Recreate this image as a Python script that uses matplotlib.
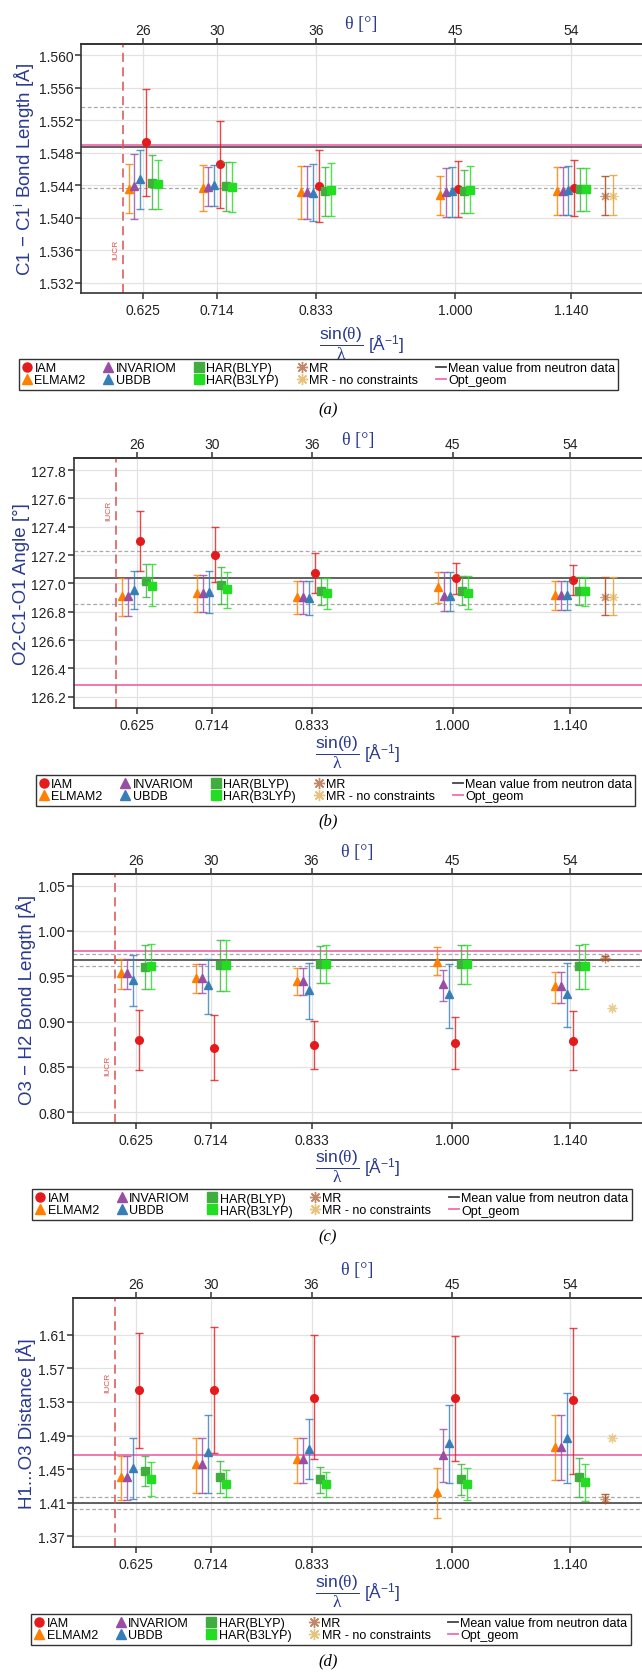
import numpy as np
import matplotlib
matplotlib.use("Agg")
import matplotlib.pyplot as plt
from matplotlib.lines import Line2D
from matplotlib.ticker import FormatStrFormatter
import matplotlib.transforms as mtransforms

plt.rcParams['font.family'] = ['Liberation Sans', 'DejaVu Sans']
plt.rcParams['mathtext.fontset'] = 'custom'
plt.rcParams['mathtext.rm'] = 'Liberation Serif'
plt.rcParams['mathtext.sf'] = 'Liberation Sans'
plt.rcParams['mathtext.it'] = 'Liberation Serif:italic'

# resolution sin(theta)/lambda and the matching theta
x_sin = [0.625, 0.714, 0.833, 1.000, 1.140]
theta = [26, 30, 36, 45, 54]
methods = ['IAM', 'ELMAM2', 'INVARIOM', 'UBDB', 'HAR(BLYP)', 'HAR(B3LYP)']
iucr_limit = 0.6
mr_x = 1.181
mrnc_x = 1.190

# (a) C1-C1i bond length, rows in order of methods
a_val = [[1.5493, 1.5466, 1.5439, 1.5436, 1.5437],
         [1.5436, 1.5437, 1.5432, 1.5428, 1.5433],
         [1.5439, 1.5438, 1.5432, 1.5432, 1.5433],
         [1.5448, 1.5440, 1.5431, 1.5433, 1.5434],
         [1.5443, 1.5439, 1.5433, 1.5433, 1.5435],
         [1.5441, 1.5438, 1.5434, 1.5434, 1.5435]]
a_lo = [[1.5427, 1.5412, 1.5395, 1.5401, 1.5402],
        [1.5406, 1.5408, 1.5399, 1.5404, 1.5403],
        [1.5398, 1.5414, 1.5399, 1.5401, 1.5403],
        [1.5411, 1.5414, 1.5396, 1.5401, 1.5403],
        [1.5411, 1.5408, 1.5402, 1.5406, 1.5408],
        [1.5411, 1.5407, 1.5402, 1.5406, 1.5408]]
a_hi = [[1.5559, 1.5519, 1.5483, 1.5470, 1.5471],
        [1.5466, 1.5465, 1.5464, 1.5451, 1.5463],
        [1.5478, 1.5462, 1.5464, 1.5461, 1.5463],
        [1.5483, 1.5465, 1.5466, 1.5462, 1.5464],
        [1.5477, 1.5469, 1.5462, 1.5459, 1.5461],
        [1.5471, 1.5469, 1.5467, 1.5464, 1.5461]]
a_mr = [1.5427, 1.5403, 1.5452]
a_mrnc = [1.5427, 1.5403, 1.5453]
a_neutron = [1.5487, 0.0050]
a_opt = 1.5490

# (b) O2-C1-O1 angle
b_val = [[127.300, 127.202, 127.071, 127.035, 127.026],
         [126.908, 126.932, 126.904, 126.972, 126.915],
         [126.908, 126.932, 126.904, 126.911, 126.915],
         [126.955, 126.941, 126.899, 126.911, 126.915],
         [127.019, 126.988, 126.944, 126.948, 126.944],
         [126.984, 126.960, 126.929, 126.934, 126.944]]
b_lo = [[127.089, 127.012, 126.932, 126.922, 126.920],
        [126.772, 126.795, 126.781, 126.859, 126.812],
        [126.772, 126.795, 126.781, 126.802, 126.812],
        [126.816, 126.788, 126.774, 126.802, 126.812],
        [126.901, 126.856, 126.845, 126.845, 126.845],
        [126.838, 126.828, 126.816, 126.816, 126.840]]
b_hi = [[127.511, 127.395, 127.212, 127.146, 127.127],
        [127.035, 127.061, 127.019, 127.082, 127.019],
        [127.035, 127.061, 127.019, 127.080, 127.019],
        [127.085, 127.087, 127.019, 127.080, 127.019],
        [127.139, 127.115, 127.035, 127.052, 127.045],
        [127.134, 127.082, 127.035, 127.054, 127.045]]
b_mr = [126.906, 126.774, 127.045]
b_mrnc = [126.906, 126.774, 127.045]
b_neutron = [127.039, 0.187]
b_opt = 126.282

# (c) O3-H2 bond length
c_val = [[0.880, 0.871, 0.874, 0.876, 0.879],
         [0.954, 0.948, 0.945, 0.966, 0.939],
         [0.954, 0.948, 0.945, 0.941, 0.939],
         [0.946, 0.940, 0.935, 0.930, 0.930],
         [0.960, 0.962, 0.964, 0.963, 0.961],
         [0.961, 0.962, 0.964, 0.963, 0.961]]
c_lo = [[0.847, 0.835, 0.848, 0.848, 0.847],
        [0.936, 0.931, 0.929, 0.951, 0.921],
        [0.936, 0.931, 0.929, 0.923, 0.921],
        [0.917, 0.908, 0.903, 0.893, 0.894],
        [0.936, 0.934, 0.943, 0.941, 0.936],
        [0.936, 0.934, 0.943, 0.941, 0.936]]
c_hi = [[0.913, 0.907, 0.901, 0.905, 0.912],
        [0.969, 0.964, 0.959, 0.982, 0.955],
        [0.969, 0.964, 0.959, 0.957, 0.955],
        [0.973, 0.969, 0.965, 0.964, 0.965],
        [0.985, 0.990, 0.983, 0.984, 0.985],
        [0.986, 0.990, 0.985, 0.985, 0.986]]
c_mr = [0.9705, 0.9695, 0.9725]
c_mrnc = [0.915, np.nan, np.nan]
c_neutron = [0.968, 0.0066]
c_opt = 0.978

# (d) H1...O3 distance
d_val = [[1.5440, 1.5440, 1.5352, 1.5344, 1.5320],
         [1.4405, 1.4556, 1.4615, 1.4223, 1.4758],
         [1.4405, 1.4556, 1.4615, 1.4666, 1.4758],
         [1.4508, 1.4698, 1.4742, 1.4809, 1.4872],
         [1.4480, 1.4409, 1.4377, 1.4377, 1.4405],
         [1.4381, 1.4326, 1.4318, 1.4318, 1.4342]]
d_lo = [[1.4750, 1.4690, 1.4619, 1.4599, 1.4445],
        [1.4136, 1.4219, 1.4334, 1.3918, 1.4366],
        [1.4136, 1.4219, 1.4334, 1.4346, 1.4366],
        [1.4144, 1.4219, 1.4381, 1.4334, 1.4334],
        [1.4298, 1.4219, 1.4219, 1.4195, 1.4171],
        [1.4183, 1.4167, 1.4163, 1.4132, 1.4124]]
d_hi = [[1.6124, 1.6191, 1.6100, 1.6088, 1.6183],
        [1.4662, 1.4876, 1.4876, 1.4512, 1.5142],
        [1.4662, 1.4876, 1.4876, 1.4975, 1.5142],
        [1.4868, 1.5146, 1.5094, 1.5268, 1.5403],
        [1.4662, 1.4595, 1.4528, 1.4556, 1.4631],
        [1.4583, 1.4488, 1.4468, 1.4508, 1.4556]]
d_mr = [1.4150, 1.4110, 1.4210]
d_mrnc = [1.4870, np.nan, np.nan]
d_neutron = [1.4100, 0.0071]
d_opt = 1.4666

colors = ['#E41A1C', '#FF7F00', '#984EA3', '#377EB8', '#3FAE3F', '#22DD22']
markers = ['o', '^', '^', '^', 's', 's']
slot = [3, 0, 1, 2, 4, 5]
mr_color = '#A65628'
mrnc_color = '#DDAA44'
blue = '#2B3A8F'
star = (8, 2, 0)

panels = [
    dict(val=a_val, lo=a_lo, hi=a_hi, mr=a_mr, mrnc=a_mrnc, neu=a_neutron, opt=a_opt,
         ylabel='C1 \u2212 C1$^{\\mathregular{i}}$ Bond Length [Å]',
         yticks=np.arange(1.532, 1.5605, 0.004), fmt='%.3f', ylim=(1.5307, 1.5614),
         left=81, top=45, bottom=294.3, th=24, xl=344, leg=(318.5, 375.5), lab=410,
         iucr_y=0.178, ylx=36),
    dict(val=b_val, lo=b_lo, hi=b_hi, mr=b_mr, mrnc=b_mrnc, neu=b_neutron, opt=b_opt,
         ylabel='O2-C1-O1 Angle [°]',
         yticks=np.arange(126.2, 127.85, 0.2), fmt='%.1f', ylim=(126.12, 127.883),
         left=73.7, top=459.3, bottom=709, th=440, xl=753, leg=(335.5, 791.5), lab=821.7,
         iucr_y=0.793, ylx=30),
    dict(val=c_val, lo=c_lo, hi=c_hi, mr=c_mr, mrnc=c_mrnc, neu=c_neutron, opt=c_opt,
         ylabel='O3 \u2212 H2 Bond Length [Å]',
         yticks=np.arange(0.80, 1.051, 0.05), fmt='%.2f', ylim=(0.788, 1.0629),
         left=72.9, top=875, bottom=1124, th=853, xl=1167, leg=(332, 1205.5), lab=1237,
         iucr_y=0.233, ylx=36),
    dict(val=d_val, lo=d_lo, hi=d_hi, mr=d_mr, mrnc=d_mrnc, neu=d_neutron, opt=d_opt,
         ylabel='H1...O3 Distance [Å]',
         yticks=np.arange(1.37, 1.611, 0.04), fmt='%.2f', ylim=(1.357, 1.6536),
         left=72.9, top=1299, bottom=1548.3, th=1270.7, xl=1592, leg=(331, 1630.5), lab=1661.7,
         iucr_y=0.663, ylx=36),
]

W, H = 642.0, 1674.0
fig = plt.figure(figsize=(W / 100, H / 100), dpi=100)

handles = []
for i, m in enumerate(methods):
    handles.append(Line2D([], [], ls='none', marker=markers[i], color=colors[i], ms=6.5, label=m))
handles.append(Line2D([], [], ls='none', marker=star, color=mr_color, mew=1, ms=8, alpha=0.7, label='MR'))
handles.append(Line2D([], [], ls='none', marker=star, color=mrnc_color, mew=1, ms=8, alpha=0.7,
                      label='MR - no constraints'))
handles.append(Line2D([], [], color='#444444', lw=1.3, label='Mean value from neutron data'))
handles.append(Line2D([], [], color='#F06CB0', lw=1.3, label='Opt_geom'))

for p in panels:
    ax = fig.add_axes([p['left'] / W, 1 - p['bottom'] / H, (W - p['left']) / W, (p['bottom'] - p['top']) / H])
    ax.set_xlim(0.55, 1.225)
    ax.set_ylim(*p['ylim'])
    ax.set_xticks(x_sin)
    ax.set_xticklabels(['%.3f' % v for v in x_sin])
    ax.set_yticks(p['yticks'])
    ax.yaxis.set_major_formatter(FormatStrFormatter(p['fmt']))
    ax.grid(color='#E2E2E2', lw=0.9)
    ax.set_axisbelow(True)
    ax.spines['right'].set_visible(False)
    for s in ['left', 'top', 'bottom']:
        ax.spines[s].set_color('#333333')
        ax.spines[s].set_linewidth(1.2)
    ax.tick_params(direction='out', length=4, width=1.1, color='#333333', labelsize=10, labelcolor='#222222')
    ax.tick_params(axis='x', pad=3)
    ax.tick_params(axis='y', pad=1.5)

    sec = ax.secondary_xaxis('top')
    sec.set_xticks(x_sin)
    sec.set_xticklabels([str(t) for t in theta])
    sec.tick_params(direction='out', length=4, width=1.1, color='#333333', labelsize=10, labelcolor='#222222', pad=1)
    sec.spines['top'].set_color('#333333')
    sec.spines['top'].set_linewidth(1.2)

    # reference lines
    mean, sd = p['neu']
    ax.axhline(mean + sd, color='#A8A8A8', ls=(0, (3, 2)), lw=0.9)
    ax.axhline(mean - sd, color='#A8A8A8', ls=(0, (3, 2)), lw=0.9)
    ax.axhline(p['opt'], color='#F06CB0', lw=1.3)
    ax.axhline(mean, color='#555555', lw=1.3)
    ax.axvline(iucr_limit, color='#D9534F', ls=(0, (5, 3)), lw=1.3, alpha=0.85)
    trans = mtransforms.blended_transform_factory(ax.transData, ax.transAxes)
    ax.text(iucr_limit - 0.004, p['iucr_y'], 'IUCR', transform=trans, rotation=90, ha='right', va='center',
            fontsize=6, color='#D9534F')

    for i in range(len(methods)):
        xs = np.array(x_sin) + (slot[i] - 2.5) * 0.0071
        v = np.array(p['val'][i])
        lo = np.array(p['lo'][i])
        hi = np.array(p['hi'][i])
        ax.errorbar(xs, v, yerr=[v - lo, hi - v], fmt='none', ecolor=colors[i], elinewidth=1,
                    capsize=3, capthick=1, alpha=0.8)
        ax.plot(xs, v, ls='none', marker=markers[i], color=colors[i], ms=5.5)

    for xm, d, col in [(mr_x, p['mr'], mr_color), (mrnc_x, p['mrnc'], mrnc_color)]:
        if not np.isnan(d[1]):
            ax.errorbar([xm], [d[0]], yerr=[[d[0] - d[1]], [d[2] - d[0]]], fmt='none', ecolor=col,
                        elinewidth=1, capsize=3, capthick=1, alpha=0.9)
        ax.plot([xm], [d[0]], ls='none', marker=star, color=col, ms=7, mew=0.9, alpha=0.6)

    ax.set_ylabel(p['ylabel'], fontsize=13.5, color=blue)
    ax.yaxis.set_label_coords((p['ylx'] - p['left']) / (W - p['left']), 0.5)

    ax_h = p['bottom'] - p['top']
    ax.text(0.5, 1 + (p['top'] - p['th']) / ax_h, '\u03b8 [°]', transform=ax.transAxes, ha='center',
            va='center', fontsize=13, color=blue, family='Liberation Serif')
    ax.text(0.5, (p['bottom'] - p['xl']) / ax_h,
            r'$\dfrac{\mathsf{sin(}\mathrm{\theta}\mathsf{)}}{\mathrm{\lambda}}$ [Å$^{\mathregular{-1}}$]',
            transform=ax.transAxes, ha='center', va='center', fontsize=12.5, color=blue)

    fig.legend(handles=handles, loc='center', bbox_to_anchor=(p['leg'][0] / W, 1 - p['leg'][1] / H),
               ncol=5, fontsize=9, frameon=True, fancybox=False, edgecolor='#333333', framealpha=1,
               handlelength=0.8, handletextpad=0.2, columnspacing=1.4, labelspacing=0.0,
               borderpad=0.25, borderaxespad=0)

for p, lab in zip(panels, ['a', 'b', 'c', 'd']):
    fig.text(328 / W, 1 - p['lab'] / H, '(' + lab + ')', ha='center', va='center', fontsize=12,
             family='Liberation Serif', style='italic')

fig.savefig('out.png', dpi=100, facecolor='white')
